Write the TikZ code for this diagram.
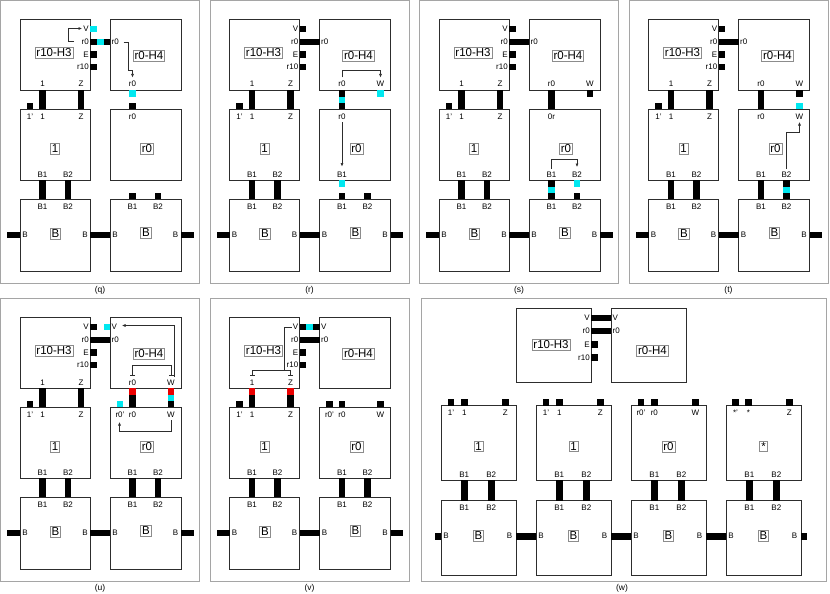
\documentclass[tikz,border=0pt]{standalone}
\usepackage{fontspec}
\setmainfont{Liberation Sans}
\usetikzlibrary{arrows.meta}
\definecolor{cy}{RGB}{0,232,240}
\definecolor{rd}{RGB}{235,0,0}
\definecolor{bx}{RGB}{45,45,45}
\definecolor{fr}{RGB}{165,165,165}
\definecolor{lb}{RGB}{140,140,140}
\tikzset{
 boxline/.style={draw=bx, line width=0.9pt},
 framebox/.style={draw=fr, line width=1pt},
 plabel/.style={font=\fontsize{8}{9}\selectfont, inner sep=0.5pt, text=black},
 clabel/.style={draw=lb, line width=0.8pt, font=\fontsize{11.5}{12}\selectfont, inner sep=1.4pt, text=black},
 flabel/.style={font=\fontsize{8.5}{9}\selectfont, inner sep=0.5pt},
 conn/.style={-{Latex[length=3.5pt,width=3pt]}, draw=bx, line width=0.6pt},
 barln/.style={{Bar[width=5pt]}-{Bar[width=5pt]}, draw=bx, line width=0.6pt},
 plainln/.style={draw=bx, line width=0.6pt}
}
\newcommand\VS[4]{\fill[#4] ({#1-3.25},#2) rectangle ({#1+3.25},#3);}
\newcommand\HS[4]{\fill[#4] (#2,{#1-3.25}) rectangle (#3,{#1+3.25});}
\newcommand\PL[4]{\node[plabel,anchor=base] (#1) at (#2,#3) {#4};}
\newcommand\PR[4]{\node[plabel,anchor=east] (#1) at (#2,#3) {#4};}
\newcommand\PW[4]{\node[plabel,anchor=west] (#1) at (#2,#3) {#4};}
\newcommand\PC[4]{\node[plabel] (#1) at (#2,#3) {#4};}
\newcommand\frameit[1]{\draw[framebox] (0.75,0.75) rectangle (199.5,283);
 \node[flabel] (lab) at (100,290) {#1};}
\newcommand\common{%
 \draw[boxline] (20,19) rectangle (90,90);
 \draw[boxline] (110,19) rectangle (181,90);
 \draw[boxline] (20,109) rectangle (90,180);
 \draw[boxline] (110,109) rectangle (181,180);
 \draw[boxline] (20,199) rectangle (90,271);
 \draw[boxline] (110,199) rectangle (181,271);
 \node[clabel] (h3) at (54,52.5) {r10-H3};
 \node[clabel] (h4) at (149,55.5) {r0-H4};
 \node[clabel] (m1) at (55,149) {1};
 \node[clabel] (m2) at (147,148.5) {r0};
 \node[clabel] (bb1) at (55.5,234) {B};
 \node[clabel] (bb2) at (146,233) {B};
 \PR{h3v}{89.5}{29}{V}
 \PR{h3r0}{89.5}{42}{r0}
 \PR{h3e}{89.5}{54.5}{E}
 \PR{h3r10}{89.5}{67}{r10}
 \PW{h4r0}{111}{42}{r0}
 \HS{54.5}{90}{96.5}{black}
 \HS{67}{90}{96.5}{black}
 \PL{h3one}{42.5}{87}{1}
 \PL{h3z}{81}{87}{Z}
 \PL{m1p}{30}{119.5}{1'}
 \PL{m1one}{42.5}{119.5}{1}
 \PL{m1z}{81}{119.5}{Z}
 \VS{30}{103}{109}{black}
 \PL{m1b1}{42.5}{177}{B1}
 \PL{m1b2}{68}{177}{B2}
 \VS{42.5}{180}{199}{black}
 \VS{68}{180}{199}{black}
 \PL{bx1b1}{42.5}{209}{B1}
 \PL{bx1b2}{68}{209}{B2}
 \PL{bx2b1}{132.5}{209}{B1}
 \PL{bx2b2}{158}{209}{B2}
 \PC{bx1l}{25}{235}{B}
 \PC{bx1r}{85}{235}{B}
 \PC{bx2l}{115}{235}{B}
 \PC{bx2r}{175.5}{235}{B}
 \HS{235}{7}{20}{black}
 \HS{235}{90}{110}{black}
 \HS{235}{181}{193.5}{black}
}
\begin{document}
\begin{tikzpicture}[x=1pt,y=-1pt]
\useasboundingbox (0,0) rectangle (830,594);
\fill[white] (0,0) rectangle (830,594);

% ---------------- (q)
\begin{scope}[shift={(0,0)}, name prefix=q-]
\frameit{(q)}
\common
\HS{29}{90}{96.5}{cy}
\HS{42}{90}{96.5}{black}\HS{42}{96.5}{103.5}{cy}\HS{42}{103.5}{110}{black}
\VS{42.5}{90}{109}{black}\VS{81}{90}{109}{black}
\draw[conn] (74,41) -- (68.5,41) -- (68.5,28.5) -- (82,28.5);
\draw[conn] (123.5,42.5) -- (128.5,42.5) -- (128.5,70.5) -- (132.5,70.5) -- (132.5,77.5);
\PL{h4br0}{132.5}{87}{r0}
\VS{132.5}{90}{96.5}{cy}
\VS{132.5}{103}{109}{black}
\PL{m2tr0}{132.5}{119.5}{r0}
\VS{132.5}{193}{199}{black}\VS{158}{193}{199}{black}
\end{scope}

% ---------------- (r)
\begin{scope}[shift={(209.5,0)}, name prefix=r-]
\frameit{(r)}
\common
\HS{29}{90}{96.5}{black}
\HS{42}{90}{110}{black}
\VS{42.5}{90}{109}{black}\VS{81}{90}{109}{black}
\PL{h4br0}{132.5}{87}{r0}\PL{h4bw}{171}{87}{W}
\draw[conn] (132.5,77.5) -- (132.5,70) -- (171,70) -- (171,77.5);
\VS{132.5}{90}{96.5}{black}\VS{132.5}{96.5}{103}{cy}\VS{132.5}{103}{109}{black}
\VS{171}{90}{96.5}{cy}
\PL{m2tr0}{132.5}{119.5}{r0}
\draw[conn] (132.5,122) -- (132.5,166.5);
\PL{m2b1}{132.5}{177}{B1}
\VS{132.5}{180}{186.5}{cy}
\VS{132.5}{193}{199}{black}\VS{158}{193}{199}{black}
\end{scope}

% ---------------- (s)
\begin{scope}[shift={(419,0)}, name prefix=s-]
\frameit{(s)}
\common
\HS{29}{90}{96.5}{black}
\HS{42}{90}{110}{black}
\VS{42.5}{90}{109}{black}\VS{81}{90}{109}{black}
\PL{h4br0}{132.5}{87}{r0}\PL{h4bw}{171}{87}{W}
\VS{171}{90}{96.5}{black}
\VS{132.5}{90}{109}{black}
\PL{m2tr0}{132.5}{119.5}{0r}
\PL{m2b1}{132.5}{177}{B1}\PL{m2b2}{158}{177}{B2}
\draw[conn] (132.5,168.5) -- (132.5,159.5) -- (158,159.5) -- (158,167);
\VS{132.5}{180}{186.5}{black}\VS{132.5}{186.5}{193}{cy}\VS{132.5}{193}{199}{black}
\VS{158}{180}{186.5}{cy}\VS{158}{193}{199}{black}
\end{scope}

% ---------------- (t)
\begin{scope}[shift={(628.5,0)}, name prefix=t-]
\frameit{(t)}
\common
\HS{29}{90}{96.5}{black}
\HS{42}{90}{110}{black}
\VS{42.5}{90}{109}{black}\VS{81}{90}{109}{black}
\PL{h4br0}{132.5}{87}{r0}\PL{h4bw}{171}{87}{W}
\VS{171}{90}{96.5}{black}\VS{171}{103}{109}{cy}
\VS{132.5}{90}{109}{black}
\PL{m2tr0}{132.5}{119.5}{r0}\PL{m2tw}{171}{119.5}{W}
\draw[conn] (158,168.5) -- (158,132) -- (171,132) -- (171,122);
\PL{m2b1}{132.5}{177}{B1}\PL{m2b2}{158}{177}{B2}
\VS{132.5}{180}{199}{black}
\VS{158}{180}{186.5}{black}\VS{158}{186.5}{193}{cy}\VS{158}{193}{199}{black}
\end{scope}

% ---------------- (u)
\begin{scope}[shift={(0,298)}, name prefix=u-]
\frameit{(u)}
\common
\HS{29}{90}{96.5}{black}\HS{29}{103.5}{110}{cy}
\PW{h4v}{111}{29}{V}
\HS{42}{90}{110}{black}
\VS{42.5}{90}{109}{black}\VS{81}{90}{109}{black}
\draw[barln] (132.5,77.5) -- (132.5,67.5) -- (171.5,67.5) -- (171.5,77.5);
\draw[conn] (174.5,79) -- (174.5,27.5) -- (122,27.5);
\PL{h4br0}{132.5}{87}{r0}\PL{h4bw}{171}{87}{W}
\VS{132.5}{90}{96.5}{rd}\VS{132.5}{96.5}{109}{black}
\VS{171}{90}{96.5}{rd}\VS{171}{96.5}{103}{cy}\VS{171}{103}{109}{black}
\VS{120}{103}{109}{cy}
\PL{m2tr0p}{120}{119.5}{r0'}\PL{m2tr0}{132.5}{119.5}{r0}\PL{m2tw}{171}{119.5}{W}
\draw[conn] (171,122) -- (171,133) -- (119.5,133) -- (119.5,124);
\PL{m2b1}{132.5}{177}{B1}\PL{m2b2}{158}{177}{B2}
\VS{132.5}{180}{199}{black}\VS{158}{180}{199}{black}
\end{scope}

% ---------------- (v)
\begin{scope}[shift={(209.5,298)}, name prefix=v-]
\frameit{(v)}
\common
\HS{29}{90}{96.5}{black}\HS{29}{96.5}{103.5}{cy}\HS{29}{103.5}{110}{black}
\PW{h4v}{111}{29}{V}
\HS{42}{90}{110}{black}
\VS{42.5}{90}{96.5}{rd}\VS{42.5}{96.5}{109}{black}
\VS{81}{90}{96.5}{rd}\VS{81}{96.5}{109}{black}
\draw[plainln] (82,29.5) -- (75,29.5) -- (75,72);
\draw[barln] (42.5,77.5) -- (42.5,72) -- (81,72) -- (81,77.5);
\VS{120}{103}{109}{black}\VS{132.5}{103}{109}{black}\VS{171}{103}{109}{black}
\PL{m2tr0p}{120}{119.5}{r0'}\PL{m2tr0}{132.5}{119.5}{r0}\PL{m2tw}{171}{119.5}{W}
\PL{m2b1}{132.5}{177}{B1}\PL{m2b2}{158}{177}{B2}
\VS{132.5}{180}{199}{black}\VS{158}{180}{199}{black}
\end{scope}

% ---------------- (w)
\begin{scope}[name prefix=w-]
\draw[framebox] (421,298.75) rectangle (826,581.5);
\node[flabel] (lab) at (622,588) {(w)};
\draw[boxline] (516,308) rectangle (591,382);
\draw[boxline] (611,308) rectangle (686,382);
\node[clabel] (h3) at (551,345) {r10-H3};
\node[clabel] (h4) at (652.5,351) {r0-H4};
\PR{h3v}{590.5}{318}{V}\PR{h3r0}{590.5}{331}{r0}\PR{h3e}{590.5}{344.5}{E}\PR{h3r10}{590.5}{357.5}{r10}
\PW{h4v}{612}{318}{V}\PW{h4r0}{612}{331}{r0}
\HS{318}{591}{611}{black}\HS{331}{591}{611}{black}
\HS{344.5}{591}{597.5}{black}\HS{357.5}{591}{597.5}{black}
% middle and bottom boxes
\foreach \k/\c in {0/1,1/1,2/r0,3/*}{
  \pgfmathsetmacro\xl{441+95*\k}
  \pgfmathsetmacro\xr{516+95*\k}
  \pgfmathsetmacro\xc{478.5+95*\k}
  \pgfmathsetmacro\xa{464.3+95*\k}
  \pgfmathsetmacro\xb{491.3+95*\k}
  \pgfmathsetmacro\xL{446+95*\k}
  \pgfmathsetmacro\xR{509.5+95*\k}
  \draw[boxline] (\xl,405.5) rectangle (\xr,480);
  \draw[boxline] (\xl,500.5) rectangle (\xr,575);
  \node[clabel] (m\k) at (\xc,446.5) {\c};
  \node[clabel] (b\k) at (\xc,536) {B};
  \PL{mb1\k}{\xa}{477}{B1}
  \PL{mb2\k}{\xb}{477}{B2}
  \PL{bb1\k}{\xa}{510.5}{B1}
  \PL{bb2\k}{\xb}{510.5}{B2}
  \VS{\xa}{480}{500.5}{black}
  \VS{\xb}{480}{500.5}{black}
  \PC{bl\k}{\xL}{536}{B}
  \PC{br\k}{\xR}{536}{B}
}
\HS{536.3}{435}{441}{black}
\HS{536.3}{516}{536}{black}
\HS{536.3}{611}{631}{black}
\HS{536.3}{706}{726}{black}
\HS{536.3}{801}{807}{black}
% top ports of middle boxes
\VS{451}{399}{405.5}{black}\VS{464.3}{399}{405.5}{black}\VS{505.3}{399}{405.5}{black}
\PL{t0a}{451}{415.5}{1'}\PL{t0b}{464.3}{415.5}{1}\PL{t0c}{505.3}{415.5}{Z}
\VS{546}{399}{405.5}{black}\VS{559.3}{399}{405.5}{black}\VS{600.3}{399}{405.5}{black}
\PL{t1a}{546}{415.5}{1'}\PL{t1b}{559.3}{415.5}{1}\PL{t1c}{600.3}{415.5}{Z}
\VS{641}{399}{405.5}{black}\VS{654.3}{399}{405.5}{black}\VS{695.3}{399}{405.5}{black}
\PL{t2a}{641}{415.5}{r0'}\PL{t2b}{654.3}{415.5}{r0}\PL{t2c}{695.3}{415.5}{W}
\VS{735.5}{399}{405.5}{black}\VS{748.5}{399}{405.5}{black}\VS{789.3}{399}{405.5}{black}
\PL{t3a}{735.5}{415.5}{*'}\PL{t3b}{748.5}{415.5}{*}\PL{t3c}{789.3}{415.5}{Z}
\end{scope}
\end{tikzpicture}
\end{document}
